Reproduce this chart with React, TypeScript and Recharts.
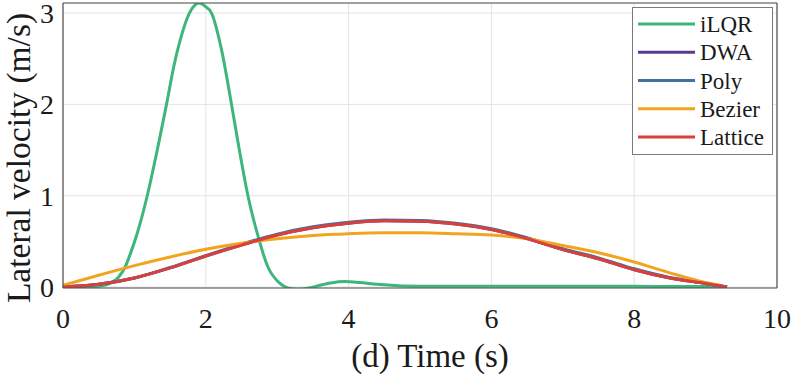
import React from 'react';
import { LineChart, Line, XAxis, YAxis, CartesianGrid, Legend, Label } from 'recharts';

const FONT = 'Liberation Serif, DejaVu Serif, serif';
const AXIS = '#505050';
const TEXT = '#1a1a1a';

const seriesNames = ['iLQR', 'DWA', 'Poly', 'Bezier', 'Lattice'];
const seriesColors = ['#3db67b', '#5e3a8e', '#3f72a0', '#f2a421', '#d9403c'];

const xTicks = [0, 2, 4, 6, 8, 10];
const yTicks = [0, 1, 2, 3];

const ilqrTime = [0, 0.3, 0.5, 0.66, 0.78, 0.87, 0.95, 1.04, 1.18, 1.32, 1.45, 1.55, 1.64, 1.77, 1.85, 1.91, 1.98, 2.08, 2.22, 2.36, 2.47, 2.59, 2.72, 2.87, 3.04, 3.15, 3.29, 3.45, 3.6, 3.75, 3.95, 4.15, 4.4, 4.7, 5.0, 5.5, 6, 7, 8, 9, 9.3];
const ilqrVel = [0, 0, 0.01, 0.04, 0.11, 0.22, 0.38, 0.59, 1.0, 1.5, 2.0, 2.41, 2.7, 3.0, 3.09, 3.11, 3.08, 3.0, 2.6, 2.0, 1.5, 1.0, 0.59, 0.22, 0.04, -0.01, -0.025, -0.01, 0.02, 0.045, 0.06, 0.05, 0.03, 0.015, 0.01, 0.008, 0.01, 0.01, 0.008, 0.006, 0.005];

const plannerTime = [0, 0.5, 1, 1.5, 2, 2.5, 3, 3.5, 4, 4.5, 5, 5.5, 6, 6.5, 7, 7.5, 8, 8.5, 9, 9.3];
const dwaVel = [0, 0.03, 0.1, 0.21, 0.34, 0.46, 0.57, 0.65, 0.7, 0.725, 0.72, 0.69, 0.63, 0.53, 0.41, 0.31, 0.19, 0.1, 0.04, 0];
const polyVel = [0, 0.03, 0.1, 0.215, 0.345, 0.47, 0.58, 0.66, 0.71, 0.735, 0.73, 0.7, 0.64, 0.54, 0.42, 0.32, 0.2, 0.105, 0.042, 0];
const latticeVel = [0, 0.03, 0.1, 0.21, 0.34, 0.46, 0.57, 0.65, 0.7, 0.725, 0.72, 0.69, 0.63, 0.53, 0.41, 0.31, 0.19, 0.1, 0.04, 0];

const bezierTime = [0, 0.5, 1, 1.5, 2, 2.5, 3, 3.5, 4, 4.5, 5, 5.5, 6, 6.5, 7, 7.5, 8, 8.5, 9, 9.2];
const bezierVel = [0.02, 0.13, 0.235, 0.33, 0.415, 0.48, 0.53, 0.565, 0.585, 0.595, 0.595, 0.585, 0.57, 0.53, 0.455, 0.375, 0.275, 0.155, 0.05, 0.02];

const zip = (t: number[], v: number[]) => t.map((x, i) => ({ t: x, v: v[i] }));

const seriesData = [
  zip(ilqrTime, ilqrVel),
  zip(plannerTime, dwaVel),
  zip(plannerTime, polyVel),
  zip(bezierTime, bezierVel),
  zip(plannerTime, latticeVel),
];

const renderLegend = () => (
  <svg width={141} height={148} style={{ display: 'block' }}>
    <rect x={0.5} y={0.5} width={140} height={147} fill="#fff" stroke="#7a7a7a" strokeWidth={1} />
    {seriesNames.map((name, i) => {
      const cy = 17 + i * 28.25;
      return (
        <g key={name}>
          <line x1={6} x2={63} y1={cy} y2={cy} stroke={seriesColors[i]} strokeWidth={3} />
          <text x={68} y={cy + 8} style={{ fontFamily: FONT }} fontSize={23} fill={TEXT}>{name}</text>
        </g>
      );
    })}
  </svg>
);

const emptyTick = () => <g />;

const tickStyle = { fontSize: 28, fill: TEXT, fontFamily: FONT, style: { fontFamily: FONT } };

export default function App() {
  return (
    <div style={{ position: 'absolute', left: 0, top: 0, width: 793, height: 377, background: '#fff', fontFamily: FONT }}>
      <LineChart width={793} height={377} margin={{ top: 3, right: 16, bottom: 0, left: 0 }} style={{ fontFamily: FONT }}>
        <CartesianGrid stroke="#e3e3e3" strokeWidth={1} />
        <XAxis
          dataKey="t"
          type="number"
          domain={[0, 10]}
          ticks={xTicks}
          interval={0}
          allowDataOverflow
          height={89}
          tickLine={false}
          tickSize={0}
          tickMargin={20}
          axisLine={{ stroke: AXIS, strokeWidth: 1.2 }}
          tick={tickStyle}
        >
          <Label
            content={() => (
              <text x={430} y={367} textAnchor="middle" style={{ fontFamily: FONT }} fontSize={33} fill={TEXT}>
                (d) Time (s)
              </text>
            )}
          />
        </XAxis>
        <XAxis xAxisId="bm" dataKey="t" type="number" domain={[0, 10]} ticks={xTicks} interval={0} mirror tickSize={7} tick={emptyTick} axisLine={false} tickLine={{ stroke: AXIS }} />
        <XAxis xAxisId="top" orientation="top" dataKey="t" type="number" domain={[0, 10]} ticks={xTicks} interval={0} mirror tickSize={7} tick={emptyTick} axisLine={{ stroke: AXIS, strokeWidth: 1.2 }} tickLine={{ stroke: AXIS }} />
        <YAxis
          type="number"
          domain={[-0.01, 3.11]}
          ticks={yTicks}
          interval={0}
          allowDataOverflow
          width={63}
          tickLine={false}
          tickSize={0}
          tickMargin={9}
          axisLine={{ stroke: AXIS, strokeWidth: 1.2 }}
          tick={tickStyle}
        >
          <Label
            content={() => (
              <text transform="translate(30,158) rotate(-90)" x={0} y={0} textAnchor="middle" style={{ fontFamily: FONT }} fontSize={33.5} fill={TEXT}>
                Lateral velocity (m/s)
              </text>
            )}
          />
        </YAxis>
        <YAxis yAxisId="lm" type="number" domain={[-0.01, 3.11]} ticks={yTicks} interval={0} mirror tickSize={7} tick={emptyTick} axisLine={false} tickLine={{ stroke: AXIS }} />
        <YAxis yAxisId="right" orientation="right" type="number" domain={[-0.01, 3.11]} ticks={yTicks} interval={0} mirror tickSize={7} tick={emptyTick} axisLine={{ stroke: AXIS, strokeWidth: 1.2 }} tickLine={{ stroke: AXIS }} />
        {seriesNames.map((name, i) => (
          <Line
            key={name}
            name={name}
            data={seriesData[i]}
            dataKey="v"
            type="monotone"
            stroke={seriesColors[i]}
            strokeWidth={3}
            dot={false}
            activeDot={false}
            isAnimationActive={false}
          />
        ))}
        <Legend
          layout="horizontal"
          verticalAlign="middle"
          align="center"
          content={renderLegend}
          wrapperStyle={{ position: 'absolute', left: 632, top: 7, width: 141, height: 148 }}
        />
      </LineChart>
    </div>
  );
}
